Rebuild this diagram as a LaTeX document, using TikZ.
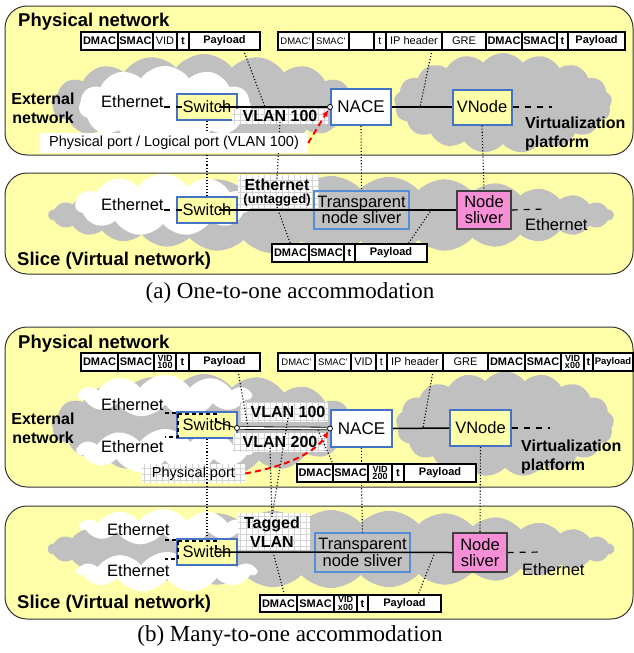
\documentclass[tikz,border=0pt]{standalone}
\usepackage{fontspec}
\setmainfont{Liberation Sans}
\newfontfamily\capfont{Liberation Serif}
\usetikzlibrary{arrows.meta, positioning, shapes.symbols}
\definecolor{paleyel}{RGB}{255,255,170}
\definecolor{cloudgray}{RGB}{192,192,192}
\definecolor{boxblue}{RGB}{68,114,196}
\definecolor{lightblue}{RGB}{85,142,215}
\definecolor{slvpink}{RGB}{246,143,214}
\definecolor{gridgray}{RGB}{212,212,212}

\begin{document}
\begin{tikzpicture}[x=1pt, y=-1pt, >=Latex,
  panel/.style={draw=black!80, line width=1, fill=paleyel, rounded corners=22},
  gcloud/.style={cloud, cloud puffs=17, cloud puff arc=105, cloud ignores aspect, fill=cloudgray, inner sep=0},
  wcloud/.style={cloud, cloud puffs=11, cloud puff arc=110, cloud ignores aspect, fill=white, inner sep=0},
  ttl/.style={anchor=base west, inner sep=0, font=\bfseries\fontsize{18.5}{22}\selectfont},
  txt/.style={inner sep=0, font=\fontsize{16.5}{19}\selectfont},
  btxt/.style={inner sep=0, align=center, font=\bfseries\fontsize{16}{19}\selectfont},
  nbox/.style={draw=boxblue, line width=2, inner sep=0, font=\fontsize{16.5}{19}\selectfont},
  tsliver/.style={draw=lightblue, line width=1.1, inner sep=0, minimum width=95, minimum height=38,
    align=center, font=\fontsize{16.5}{16.5}\selectfont},
  nsliver/.style={draw=black!75, line width=1.1, fill=slvpink, inner sep=0, minimum width=54,
    minimum height=38, align=center, font=\fontsize{16.5}{16}\selectfont},
  fld/.style={draw, line width=1.2, fill=white, inner sep=0, outer sep=0, minimum height=18,
    font=\fontsize{11}{11}\selectfont},
  bfld/.style={fld, font=\bfseries\fontsize{11}{11}\selectfont},
  sfld/.style={fld, font=\fontsize{9.5}{10}\selectfont},
  vfld/.style={fld, align=center, font=\bfseries\fontsize{9}{7.5}\selectfont},
  port/.style={circle, draw, fill=white, line width=0.8, inner sep=0, minimum size=5},
  dotln/.style={dotted, line width=1.1},
  dashln/.style={line width=1.2, dash pattern=on 6pt off 6pt},
  vlanln/.style={line width=1.5},
  redarr/.style={draw=red, line width=2, dash pattern=on 6pt off 4pt, -{Latex[length=7pt, width=6pt]}},
  gridbg/.style={draw=gridgray, line width=0.5, step=6pt},
  captxt/.style={font=\capfont\fontsize{23}{26}\selectfont}]

\useasboundingbox (0,0) rectangle (634,653);
\clip (0,0) rectangle (634,653);

% ---- (a) physical network ---------------------------------------------------------
\draw[panel] (5,6) rectangle (633,155);
\node[gcloud, minimum width=305, minimum height=98] (gca1) at (204,103) {};
\node[gcloud, minimum width=218, minimum height=100] (gca2) at (503,103) {};
\node[wcloud, minimum width=172, minimum height=80] (wca) at (165,106) {};
\node[ttl] (pna) at (18,27) {Physical network};

\node[bfld, minimum width=37, anchor=north west] (pa1) at (81,32) {DMAC};
\node[bfld, minimum width=35, right=0pt of pa1] (pa2) {SMAC};
\node[fld, minimum width=24, right=0pt of pa2] (pa3) {VID};
\node[bfld, minimum width=12, right=0pt of pa3] (pa4) {t};
\node[bfld, minimum width=71, right=0pt of pa4] (pa5) {Payload};

\node[sfld, minimum width=35, anchor=north west] (qa1) at (278,32) {DMAC'};
\node[sfld, minimum width=36, right=0pt of qa1] (qa2) {SMAC'};
\node[fld, minimum width=25, right=0pt of qa2] (qa3) {};
\node[fld, minimum width=12, right=0pt of qa3] (qa4) {t};
\node[fld, minimum width=56, right=0pt of qa4] (qa5) {IP header};
\node[fld, minimum width=44, right=0pt of qa5] (qa6) {GRE};
\node[bfld, minimum width=36, right=0pt of qa6] (qa7) {DMAC};
\node[bfld, minimum width=35, right=0pt of qa7] (qa8) {SMAC};
\node[bfld, minimum width=11, right=0pt of qa8] (qa9) {t};
\node[bfld, minimum width=57, right=0pt of qa9] (qa10) {Payload};

\node[btxt] (exta) at (43,108) {External\\network};
\node[txt, anchor=base west] (etha) at (101,107) {Ethernet};
\node[nbox, fill=paleyel, minimum width=60, minimum height=26] (swa) at (207,107) {Switch};
\node[nbox, fill=white, minimum width=60, minimum height=36, font=\fontsize{17}{19}\selectfont] (naca) at (361,107) {NACE};
\node[nbox, fill=paleyel, minimum width=59, minimum height=35] (vna) at (482,107) {VNode};
\node[port] (pta) at (naca.west) {};
\node[btxt, align=left, anchor=west] (vpa) at (525,134) {Virtualization\\platform};

\fill[white] (232,109) rectangle (328,124);
\draw[gridbg] (232,124) grid (328,109);
\node[btxt] (vlana) at (280,116) {VLAN 100};

\coordinate (la1) at (265,107);
\coordinate (la2) at (420,107);
\coordinate (vea) at (552,107);
\draw[dashln] (etha.base east) -- ([xshift=6]swa.west);
\draw[vlanln] ([xshift=12]swa.center) -- (pta);
\draw[vlanln] (naca.east) -- (vna.west);
\draw[dashln] (vna.east) -- (vea);
\draw[dotln] ([xshift=19]pa5.south) -- (la1);
\draw[dotln] ([xshift=18]qa5.south) -- (la2);

% ---- (a) slice ---------------------------------------------------------------------
\draw[panel] (5,173) rectangle (633,274);
\node[gcloud, cloud puffs=30, cloud puff arc=95, minimum width=565, minimum height=78] (gcsa) at (331,215) {};
\node[wcloud, minimum width=175, minimum height=62] (wcsa) at (163,205) {};
\node[txt, anchor=base west] (ethsa) at (101,210) {Ethernet};
\node[nbox, fill=paleyel, minimum width=60, minimum height=26] (swsa) at (207,210) {Switch};
\fill[white] (238,175) rectangle (318,208);
\draw[gridbg] (238,208) grid (318,175);
\node[btxt, font=\bfseries\fontsize{16}{13}\selectfont] (ethu) at (277,193)
  {Ethernet\\{\fontsize{13}{13}\selectfont(untagged)}};
\node[tsliver] (tsa) at (361.5,210) {Transparent\\node sliver};
\node[nsliver] (nsa) at (484,210) {Node\\sliver};
\node[txt, anchor=base west] (ethsa2) at (525,230) {Ethernet};

\node[bfld, minimum width=37, anchor=north west] (pb1) at (272,244) {DMAC};
\node[bfld, minimum width=35, right=0pt of pb1] (pb2) {SMAC};
\node[bfld, minimum width=11, right=0pt of pb2] (pb3) {t};
\node[bfld, minimum width=72, right=0pt of pb3] (pb4) {Payload};
\node[ttl] (sla) at (17,265) {Slice (Virtual network)};

\coordinate (lc1) at (432,209);
\coordinate (vesa) at (545,209);
\draw[dashln] (ethsa.base east) -- ([xshift=6]swsa.west);
\draw[vlanln] ([xshift=12]swsa.center) -- (nsa.west);
\draw[dashln] (nsa.east) -- (vesa);
\draw[dotln] (ethu.south) -- (pb1.north);
\draw[dotln] (lc1) -- ([xshift=17]pb4.north);

% ---- (a) between the layers --------------------------------------------------------
\draw[dotln] (swa.south) -- (swsa.north);
\draw[dotln] (vlana.south) -- (ethu.north);
\draw[dotln] (naca.south) -- (tsa.north);
\draw[dotln] (vna.south) -- (nsa.north);
\node[fill=white, minimum width=268, minimum height=20, inner sep=0,
  font=\fontsize{14.5}{16}\selectfont] (ppa) at (174,143) {Physical port / Logical port (VLAN 100)};
\draw[redarr] (ppa.east) -- (pta);

\node[captxt] (capa) at (290,293) {(a) One-to-one accommodation};

% ---- (b) physical network ----------------------------------------------------------
\draw[panel] (5,327) rectangle (633,487);
\node[gcloud, minimum width=305, minimum height=102] (gcb1) at (204,425) {};
\node[gcloud, minimum width=218, minimum height=105] (gcb2) at (505,424) {};
\node[wcloud, minimum width=172, minimum height=42] (wcb1) at (165,396) {};
\node[wcloud, minimum width=175, minimum height=44] (wcb2) at (165,451) {};
\node[ttl] (pnb) at (18,348) {Physical network};

\node[bfld, minimum width=37, anchor=north west] (pc1) at (81,353) {DMAC};
\node[bfld, minimum width=36, right=0pt of pc1] (pc2) {SMAC};
\node[vfld, minimum width=22, right=0pt of pc2] (pc3) {VID\\100};
\node[bfld, minimum width=13, right=0pt of pc3] (pc4) {t};
\node[bfld, minimum width=71, right=0pt of pc4] (pc5) {Payload};

\node[sfld, minimum width=37, anchor=north west] (pd1) at (278,353) {DMAC'};
\node[sfld, minimum width=36, right=0pt of pd1] (pd2) {SMAC'};
\node[fld, minimum width=25, right=0pt of pd2] (pd3) {VID};
\node[fld, minimum width=11, right=0pt of pd3] (pd4) {t};
\node[fld, minimum width=56, right=0pt of pd4] (pd5) {IP header};
\node[fld, minimum width=45, right=0pt of pd5] (pd6) {GRE};
\node[bfld, minimum width=37, right=0pt of pd6] (pd7) {DMAC};
\node[bfld, minimum width=36, right=0pt of pd7] (pd8) {SMAC};
\node[vfld, minimum width=23, right=0pt of pd8] (pd9) {VID\\x00};
\node[bfld, minimum width=9, right=0pt of pd9] (pd10) {t};
\node[bfld, minimum width=40, right=0pt of pd10, font=\bfseries\fontsize{9.5}{10}\selectfont] (pd11) {Payload};

\node[btxt] (extb) at (43,428) {External\\network};
\node[txt, anchor=base west] (ethb1) at (101,410) {Ethernet};
\node[txt, anchor=base west] (ethb2) at (101,452) {Ethernet};
\node[nbox, fill=paleyel, minimum width=60, minimum height=26] (swb) at (207,425) {Switch};
\node[nbox, fill=white, minimum width=61, minimum height=37, font=\fontsize{17}{19}\selectfont] (nacb) at (361.5,428.5) {NACE};
\node[nbox, fill=paleyel, minimum width=61, minimum height=36] (vnb) at (480.5,428) {VNode};
\node[btxt, align=left, anchor=west] (vpb) at (521,457) {Virtualization\\platform};

\fill[white] (240,402) rectangle (328,422);
\draw[gridbg] (240,422) grid (328,402);
\fill[white] (233,433) rectangle (327,452);
\draw[gridbg] (233,452) grid (327,433);
\node[btxt] (vlanb1) at (288,412) {VLAN 100};
\node[btxt] (vlanb2) at (280,442) {VLAN 200};

\coordinate (sb1) at (165,413);
\coordinate (sb2) at (165,437);
\draw[dashln, dash pattern=on 4pt off 3pt] (sb1) -- ++(13,0) |- (sb2);
\draw[dashln, dash pattern=on 4pt off 3pt] ([xshift=2,yshift=-3]swb.north west)
  -- ([xshift=-22,yshift=-3]swb.north east) -- ([xshift=-22,yshift=3]swb.east);
\node[port] (ptb1) at (237,428) {};
\node[port] (ptb2) at (nacb.west) {};
\draw[line width=1] ([xshift=-22,yshift=3]swb.east) -- (ptb1);
\draw[line width=0.8, double=white, double distance=1.8] (ptb1) -- (ptb2);
\coordinate (veb) at (550,428);
\draw[vlanln] (nacb.east) -- (vnb.west);
\draw[dashln] (vnb.east) -- (veb);

\node[bfld, minimum width=36, anchor=north west] (pe1) at (297,464) {DMAC};
\node[bfld, minimum width=35, right=0pt of pe1] (pe2) {SMAC};
\node[vfld, minimum width=24, right=0pt of pe2] (pe3) {VID\\200};
\node[bfld, minimum width=12, right=0pt of pe3] (pe4) {t};
\node[bfld, minimum width=72, right=0pt of pe4] (pe5) {Payload};

\coordinate (ld1) at (248,427);
\coordinate (ld2) at (423,428);
\coordinate (ld3) at (318,430);
\draw[dotln] ([xshift=13.5]pc5.south) -- (ld1);
\draw[dotln] ([xshift=18]pd5.south) -- (ld2);
\draw[dotln] (ld3) -- (pe1.north east);

% ---- (b) slice ---------------------------------------------------------------------
\draw[panel] (5,506) rectangle (633,619);
\node[gcloud, cloud puffs=30, cloud puff arc=95, minimum width=566, minimum height=78] (gcsb) at (331,549) {};
\node[wcloud, minimum width=165, minimum height=36] (wcsb1) at (163,527) {};
\node[wcloud, minimum width=178, minimum height=40] (wcsb2) at (167,572) {};
\node[txt, anchor=base west] (ethsb1) at (107,535) {Ethernet};
\node[txt, anchor=base west] (ethsb2) at (107,576) {Ethernet};
\node[nbox, fill=paleyel, minimum width=60, minimum height=26] (swsb) at (207,552) {Switch};
\fill[white] (238,513) rectangle (310,550);
\draw[gridbg] (238,550) grid (310,513);
\node[btxt] (tagb) at (272,532) {Tagged\\VLAN};
\node[tsliver, minimum height=39] (tsb) at (362.5,552.5) {Transparent\\node sliver};
\node[nsliver, minimum height=39] (nsb) at (480,552.5) {Node\\sliver};
\node[txt, anchor=base west] (ethsb3) at (522,575) {Ethernet};

\coordinate (sc1) at (165,540);
\coordinate (sc2) at (165,559);
\draw[dashln, dash pattern=on 4pt off 3pt] (sc1) -- ++(13,0) |- (sc2);
\draw[dashln, dash pattern=on 4pt off 3pt] ([xshift=2,yshift=-3]swsb.north west)
  -- ([xshift=-22,yshift=-3]swsb.north east) -- ([xshift=-22]swsb.east);
\coordinate (vesb) at (543,552);
\draw[vlanln] ([xshift=-22]swsb.east) -- (nsb.west);
\draw[dashln] (nsb.east) -- (vesb);

\node[bfld, minimum width=37, minimum height=17, anchor=north west] (pf1) at (260,595) {DMAC};
\node[bfld, minimum width=37, minimum height=17, right=0pt of pf1] (pf2) {SMAC};
\node[vfld, minimum width=23, minimum height=17, right=0pt of pf2] (pf3) {VID\\x00};
\node[bfld, minimum width=11, minimum height=17, right=0pt of pf3] (pf4) {t};
\node[bfld, minimum width=73, minimum height=17, right=0pt of pf4] (pf5) {Payload};
\node[ttl] (slb) at (17,608) {Slice (Virtual network)};

\coordinate (le1) at (273,552);
\coordinate (le2) at (435,552);
\draw[dotln] (le1) -- ([xshift=6]pf1.north);
\draw[dotln] (le2) -- ([xshift=13.5]pf5.north);

% ---- (b) between the layers --------------------------------------------------------
\fill[white] (142,464) rectangle (245,483);
\draw[gridbg] (142,483) grid (245,464);
\node[minimum width=103, minimum height=19, inner sep=0, font=\fontsize{14.5}{16}\selectfont]
  (ppb) at (193.5,473.5) {Physical port};
\draw[dotln] (swb.south) -- (swsb.north);
\draw[dotln] (vlanb1.south) -- (tagb.north);
\draw[dotln] ([xshift=-10]vlanb2.south) -- (tagb.north);
\draw[dotln] (nacb.south) -- (nacb.south |- pe2.north);
\draw[dotln] (nacb.south |- pe2.south) -- (tsb.north);
\draw[dotln] (vnb.south) -- (nsb.north);
\draw[redarr] (ppb.east) .. controls (288,466) and (316,452) .. (ptb2);

\node[captxt] (capb) at (290,636) {(b) Many-to-one accommodation};

\end{tikzpicture}
\end{document}
